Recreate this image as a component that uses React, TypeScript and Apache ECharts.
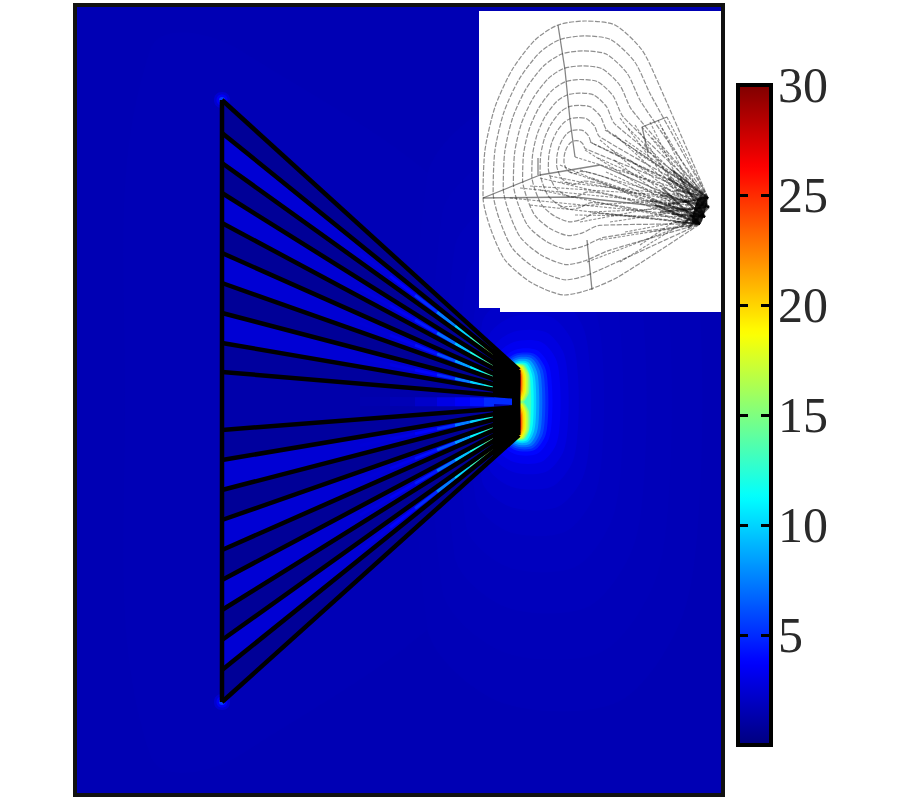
import React, { useEffect, useRef } from "react";
import * as echarts from "echarts";

// Colour scale (value 0..30)
const jetColors = ["#00007f", "#0000ff", "#007fff", "#00ffff", "#7fff7f", "#ffff00", "#ff7f00", "#ff0000", "#7f0000"];
const barTicks = [5, 10, 15, 20, 25];
const barLabels = [5, 10, 15, 20, 25, 30];

// Field: background level and broad halos
const backgroundValue = 1.55;
const wedgeGlow = [[150, 50], [240, 50], [520, 280], [520, 520], [240, 755], [150, 755], [125, 400]];
const wedgeGlowValue = 1.6;
// Halos round the tip: value, furthest x, half height round y=402
const haloRows = [
  [1.65, 700, 300], [1.7, 670, 250], [1.78, 645, 205], [1.88, 622, 165], [2.0, 603, 130], [2.2, 590, 105], [2.45, 578, 85], [2.8, 568, 70],
  [3.3, 560, 60], [3.9, 552, 52], [4.8, 548, 48], [5.8, 545, 46], [7, 542, 44], [8.5, 539, 42],
  [10, 536, 40], [11.5, 533.5, 38.5], [13, 531, 37.5],
];
// Lobes at the tip: value, furthest x, inner and outer distance from y=402
const lobeRows = [
  [15, 529, 0, 37], [16.5, 527.5, 1, 36.5], [18, 526, 2, 35.5], [19.5, 524.5, 3, 34.5], [21, 523, 5, 33.5],
  [23, 522, 7, 32.5], [25, 521, 10, 31.5], [27, 520.5, 13, 30], [29, 520, 16, 29],
];
const cornerGlows = [[222, 100], [222, 702]];
const cornerLevels = [[8, 2.4], [5.5, 3.4], [3, 5.5]];

// Fan of the wedge
const edgeX = 222;
const tipX = 519;
const edgeY = [100, 133, 163, 193, 223, 253, 283, 313, 343, 372, 430, 460, 490, 520, 550, 580, 610, 640, 670, 702];
const tipY = [370, 373, 376, 379, 382, 385, 388, 391, 394, 397, 407, 410, 413, 416, 419, 422, 425, 428, 431, 435];
const slotValues = [0.7, 2.5, 0.7, 2.5, 0.7, 2.5, 0.7, 2.5, 0.9, 1.3, 0.9, 2.5, 0.7, 2.5, 0.7, 2.5, 0.7, 2.5, 0.7];
// Black block where the fan lines merge at the tip
const tipBlockUpper = [[493, 346], [519, 369], [519, 397.5], [493, 395]];
const tipBlockLower = [[493, 409], [519, 406.5], [519, 436], [493, 458.5]];
const tipBlockMiddle = [[512, 396], [520, 396], [520, 408], [512, 408]];
// Hot streaks inside the slots
const streakEdges = [360, 390, 415, 437, 455, 470, 484, 494];
const streakSlots = [1, 3, 5, 7, 9, 11, 13, 15, 17];
const streakWidths = [3, 3, 3, 3, 9, 3, 3, 3, 3];
const streakValues = [
  [2.8, 3.8, 5, 7.5, 10, 13, 16],
  [2.8, 3.5, 4.5, 7, 9.5, 12, 14],
  [2.6, 3.2, 4.2, 6, 8.5, 11, 13],
  [2.6, 3, 3.8, 5, 7.5, 10, 12],
  [1.4, 1.6, 2.2, 3, 3.6, 4.2, 5],
  [2.6, 3, 3.8, 5, 7.5, 10, 12],
  [2.6, 3.2, 4.2, 6, 8.5, 11, 13],
  [2.8, 3.5, 4.5, 7, 9.5, 12, 14],
  [2.8, 3.8, 5, 7.5, 10, 13, 16],
];
// Blue end of the central slot, running into the block
const centreSlotEnd = [[494, 400.5], [515, 401.5]];
const centreSlotValue = 5;

// Inset
const insetPanel = [[479, 11], [722, 11], [722, 312], [500, 312], [500, 308], [479, 308]];
const insetCenter = [575, 157];
const insetFace = [[708, 198], [709, 207], [705, 217], [700, 224]];
const insetOutline = [
  [660, 87], [642, 50], [615, 25], [585, 21], [558, 25], [535, 40], [512, 70], [495, 107], [485, 150],
  [483, 197], [490, 227], [505, 260], [532, 283], [565, 295], [588, 290], [618, 277],
];
const insetScales = [1, 0.89, 0.78, 0.67, 0.57, 0.47, 0.38, 0.29, 0.2, 0.12];
const insetSpokes = [
  [[558, 25], [565, 70], [570, 120], [575, 157]],
  [[587, 240], [592, 290]],
  [[483, 198], [575, 197], [692, 210]],
  [[483, 198], [540, 175], [600, 165], [692, 205]],
  [[667, 117], [642, 127], [648, 153]],
  [[538, 175], [538, 158]],
];
const insetFanEnds = [
  [667, 117], [662, 128], [658, 120], [650, 122], [652, 138], [642, 127], [644, 145], [635, 125], [636, 152], [628, 128], [630, 160], [620, 118],
  [625, 140], [622, 170], [615, 135], [614, 160], [605, 130], [612, 150], [606, 172], [600, 140], [590, 142], [598, 158], [592, 178], [585, 150],
  [575, 157], [580, 170], [570, 172], [560, 165], [560, 182], [550, 176], [540, 178],
  [540, 190], [530, 186], [520, 188], [510, 198], [530, 205], [560, 207], [590, 212], [575, 215], [605, 214],
  [580, 222], [610, 222], [625, 232], [600, 240], [640, 245], [620, 262], [587, 262], [650, 232],
];
const insetTipEnds = [
  [672, 170], [668, 178], [680, 178], [662, 188], [676, 190], [660, 195], [650, 200], [655, 205], [668, 204], [660, 212], [672, 214],
  [675, 222], [682, 226], [688, 228], [684, 200], [690, 214],
];
const insetBlob = [[702, 202], [697, 219]];

const lerpY = (a: number, b: number, x: number) => a + (b - a) * ((x - edgeX) / (tipX - edgeX));

function dPolygon(xMax: number, half: number, cy = 402) {
  const r = xMax - 518;
  return [
    [518 - r * 0.5, cy - half * 0.75], [518 - r * 0.1, cy - half], [xMax - r * 0.45, cy - half], [xMax - r * 0.1, cy - half * 0.72],
    [xMax, cy - half * 0.3], [xMax, cy + half * 0.3], [xMax - r * 0.1, cy + half * 0.72],
    [xMax - r * 0.45, cy + half], [518 - r * 0.1, cy + half], [518 - r * 0.5, cy + half * 0.75],
  ];
}
function lobePolygon(xMax: number, inner: number, outer: number, sign: number) {
  const mid = (inner + outer) / 2;
  return [
    [510, 402 + sign * inner], [518 + (xMax - 518) * 0.5, 402 + sign * inner], [xMax, 402 + sign * (inner + (mid - inner) * 0.5)],
    [xMax, 402 + sign * (outer - (outer - mid) * 0.5)], [518 + (xMax - 518) * 0.5, 402 + sign * outer], [510, 402 + sign * outer],
  ];
}

type Poly = { pts: number[][]; value: number; smooth: number };
const polys: Poly[] = [];
polys.push({ pts: [[75, 5], [723, 5], [723, 795], [75, 795]], value: backgroundValue, smooth: 0 });
polys.push({ pts: wedgeGlow, value: wedgeGlowValue, smooth: 0.4 });
haloRows.forEach(([v, x, h]) => polys.push({ pts: dPolygon(x, h), value: v, smooth: 0.3 }));
lobeRows.forEach(([v, x, a, b]) => {
  polys.push({ pts: lobePolygon(x, a, b, -1), value: v, smooth: 0.2 });
  polys.push({ pts: lobePolygon(x, a, b, 1), value: v, smooth: 0.2 });
});
cornerGlows.forEach(([cx, cy]) =>
  cornerLevels.forEach(([r, v]) =>
    polys.push({ pts: [[cx - r, cy], [cx, cy - r], [cx + r, cy], [cx, cy + r]], value: v, smooth: 0.6 })
  )
);
slotValues.forEach((v, i) =>
  polys.push({
    pts: [[edgeX, edgeY[i]], [tipX, tipY[i]], [tipX, tipY[i + 1]], [edgeX, edgeY[i + 1]]],
    value: v,
    smooth: 0,
  })
);

type Seg = { a: number[]; b: number[]; value: number; width: number };
const segs: Seg[] = [];
streakSlots.forEach((slot, si) => {
  streakValues[si].forEach((v, k) => {
    const x0 = streakEdges[k];
    const x1 = streakEdges[k + 1];
    const mid = (x: number) => (lerpY(edgeY[slot], tipY[slot], x) + lerpY(edgeY[slot + 1], tipY[slot + 1], x)) / 2;
    segs.push({ a: [x0, mid(x0)], b: [x1, mid(x1)], value: v, width: streakWidths[si] });
  });
});

const plain = (name: string, data: number[][], color: string, width: number, extra: any = {}) => ({
  type: "line",
  name,
  data,
  showSymbol: false,
  symbol: "none",
  silent: true,
  lineStyle: { color, width, ...extra.lineStyle },
  smooth: extra.smooth ?? false,
  xAxisIndex: 0,
  yAxisIndex: 0,
  clip: false,
});

const solidPolygon = (name: string, pts: number[][], fill: string) => ({
  type: "custom",
  name,
  xAxisIndex: 0,
  yAxisIndex: 0,
  silent: true,
  data: [[0, 0]],
  renderItem: (_: any, api: any) => ({
    type: "polygon",
    shape: { points: pts.map((q) => api.coord(q)) },
    style: { fill },
  }),
});

function buildOption() {
  const wedgeLines = edgeY.map((y, i) => plain("fan" + i, [[edgeX, y], [tipX, tipY[i]]], "#000", 4.5));
  const wedgeEdge = plain("edge", [[edgeX, edgeY[0]], [edgeX, edgeY[edgeY.length - 1]]], "#000", 4.5);
  const wedgeFace = plain("face", [[tipX, tipY[0]], [tipX, tipY[tipY.length - 1]]], "#000", 3);

  const faceAt = (i: number) => insetFace[i % insetFace.length];
  const curves = insetScales.map((s, i) => {
    const pts = insetOutline.map(([x, y]) => [
      insetCenter[0] + s * (x - insetCenter[0]),
      insetCenter[1] + s * (y - insetCenter[1]),
    ]);
    return plain("curve" + i, [insetFace[0], ...pts, insetFace[3]], "#333", 1.2, {
      smooth: 0.25,
      lineStyle: { type: [5, 1.5], opacity: 0.55 },
    });
  });
  const spokes = insetSpokes.map((d, i) => plain("spoke" + i, d, "#333", 1.3, { lineStyle: { opacity: 0.6 } }));
  const fan = insetFanEnds.map((p, i) =>
    plain("ray" + i, [p, faceAt(i)], "#333", 1.1, { lineStyle: { type: [3, 1.5], opacity: 0.55 } })
  );
  const tipRays = insetTipEnds.map((p, i) => plain("tip" + i, [p, faceAt(i)], "#000", 2.2, { lineStyle: { opacity: 0.55 } }));
  const blob = plain("blob", insetBlob, "#000", 11, { lineStyle: { opacity: 0.85, cap: "round" } });

  return {
    animation: false,
    backgroundColor: "#fff",
    grid: [
      { left: 75, top: 5, width: 648, height: 790, show: true, borderColor: "#111", borderWidth: 4, backgroundColor: "transparent", z: 5 },
      { left: 738, top: 85, width: 33, height: 660, show: true, borderColor: "#000", borderWidth: 4, backgroundColor: "transparent", z: 6 },
    ],
    xAxis: [
      { type: "value", min: 75, max: 723, show: false, gridIndex: 0 },
      { type: "value", min: 0, max: 1, show: false, gridIndex: 1 },
    ],
    yAxis: [
      { type: "value", min: 5, max: 795, inverse: true, show: false, gridIndex: 0 },
      {
        type: "value", min: 0, max: 30, gridIndex: 1, position: "left", z: 7,
        axisLine: { show: false }, splitLine: { show: false }, axisLabel: { show: false },
        axisTick: { show: true, inside: true, length: 10, customValues: barTicks, lineStyle: { color: "#000", width: 3 } },
      },
      {
        type: "value", min: 0, max: 30, gridIndex: 1, position: "right", z: 7,
        axisLine: { show: false }, splitLine: { show: false },
        axisTick: { show: true, inside: true, length: 10, customValues: barTicks, lineStyle: { color: "#000", width: 3 } },
        axisLabel: {
          show: true, customValues: barLabels, margin: 7, fontFamily: "Liberation Serif", fontSize: 50, color: "#2a2a2a",
          padding: [20, 0, 0, 0], lineHeight: 50,
        },
      },
    ],
    visualMap: {
      type: "continuous", min: 0, max: 30, show: true, seriesIndex: [0, 1, 2], dimension: 1,
      left: 738, top: 85, itemWidth: 33, itemHeight: 660, padding: 0, text: null, calculable: false, realtime: false,
      hoverLink: false, inRange: { color: jetColors }, textStyle: { fontSize: 0 }, z: 4, orient: "vertical",
    },
    series: [
      {
        type: "custom", name: "field", xAxisIndex: 0, yAxisIndex: 0, silent: true, clip: true,
        data: polys.map((p, i) => [i, p.value]),
        renderItem: (_: any, api: any) => {
          const p = polys[api.value(0)];
          return {
            type: "polygon",
            shape: { points: p.pts.map((q) => api.coord(q)), smooth: p.smooth },
            style: { fill: api.visual("color") },
          };
        },
      },
      {
        type: "custom", name: "streaks", xAxisIndex: 0, yAxisIndex: 0, silent: true, clip: true,
        data: segs.map((s, i) => [i, s.value]),
        renderItem: (_: any, api: any) => {
          const s = segs[api.value(0)];
          const a = api.coord(s.a);
          const b = api.coord(s.b);
          return {
            type: "line",
            shape: { x1: a[0], y1: a[1], x2: b[0], y2: b[1] },
            style: { stroke: api.visual("color"), lineWidth: s.width, fill: "none" },
          };
        },
      },
      {
        type: "custom", name: "centre", xAxisIndex: 0, yAxisIndex: 0, silent: true,
        data: [[0, centreSlotValue]],
        renderItem: (_: any, api: any) => {
          const a = api.coord(centreSlotEnd[0]);
          const b = api.coord(centreSlotEnd[1]);
          return {
            type: "line",
            shape: { x1: a[0], y1: a[1], x2: b[0], y2: b[1] },
            style: { stroke: api.visual("color"), lineWidth: 7, fill: "none" },
          };
        },
      },
      ...wedgeLines,
      wedgeEdge,
      wedgeFace,
      solidPolygon("tipUpper", tipBlockUpper, "#000"),
      solidPolygon("tipLower", tipBlockLower, "#000"),
      solidPolygon("tipMiddle", tipBlockMiddle, "#000"),
      solidPolygon("inset", insetPanel, "#fff"),
      ...curves,
      ...spokes,
      ...fan,
      ...tipRays,
      blob,
    ],
  };
}

export default function App() {
  const ref = useRef<HTMLDivElement>(null);
  useEffect(() => {
    const chart = echarts.init(ref.current!, null, { renderer: "svg" });
    chart.setOption(buildOption() as any);
    return () => chart.dispose();
  }, []);
  return <div ref={ref} style={{ position: "absolute", left: 0, top: 0, width: 900, height: 800 }} />;
}
